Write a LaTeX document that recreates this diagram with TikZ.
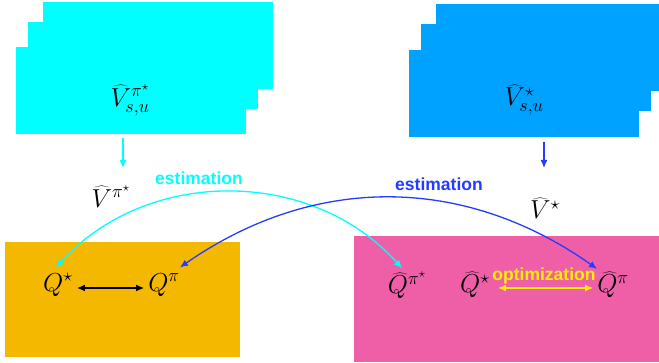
\RequirePackage{fix-cm}
\documentclass[tikz,border=0pt]{standalone}
\usepackage{fontspec}
\newfontfamily\labfont{Liberation Sans}
\usetikzlibrary{arrows.meta}
\definecolor{cyanbox}{RGB}{0,255,255}
\definecolor{bluebox}{RGB}{0,162,255}
\definecolor{orangebox}{RGB}{245,184,0}
\definecolor{pinkbox}{RGB}{238,95,168}
\definecolor{darkblue}{RGB}{35,60,255}
\definecolor{yel}{RGB}{255,238,0}
\begin{document}
\begin{tikzpicture}[x=1pt,y=1pt,
  panel/.style={inner sep=0pt, minimum width=230pt, minimum height=87pt},
  mathlab/.style={inner sep=0pt, font=\fontsize{26}{30}\selectfont},
  wordlab/.style={inner sep=0pt, font=\labfont\bfseries\fontsize{17.5}{20}\selectfont},
  tip/.style={-{Latex[length=8pt,width=7pt]}},
  dtip/.style={{Latex[length=8pt,width=7pt]}-{Latex[length=8pt,width=7pt]}},
  arc/.style={line width=1.3pt}
]
\useasboundingbox (0,0) rectangle (659,362);
% stacks
\node[panel, fill=cyanbox] (cb) at (158,316.5) {};
\node[panel, fill=cyanbox] (cm) at (143,296.5) {};
\node[panel, fill=cyanbox] (cf) at (131,271.5) {};
\node[panel, fill=bluebox, minimum width=223pt] (bb) at (547.5,314.5) {};
\node[panel, fill=bluebox] (bm) at (536,294.5) {};
\node[panel, fill=bluebox] (bf) at (524,268) {};
\node[mathlab] (vspi) at (130,262) {$\widehat{V}^{\pi^\star}_{s,u}$};
\node[mathlab] (vss) at (524,262) {$\widehat{V}^{\star}_{s,u}$};
% bottom boxes
\node[inner sep=0pt, fill=orangebox, minimum width=235pt, minimum height=115pt] (ob) at (122.5,62.5) {};
\node[inner sep=0pt, fill=pinkbox, minimum width=305pt, minimum height=126pt] (pb) at (506.5,63) {};
% labels
\node[mathlab] (vpi) at (111,166) {$\widehat{V}^{\pi^\star}$};
\node[mathlab] (vst) at (545,154) {$\widehat{V}^{\star}$};
\node[wordlab, text=cyanbox] (est1) at (199,184) {estimation};
\node[wordlab, text=darkblue] (est2) at (439,178) {estimation};
% Q nodes
\node[mathlab] (qs) at (58,77) {$Q^{\star}$};
\node[mathlab] (qp) at (164,77) {$Q^{\pi}$};
\node[mathlab] (qhps) at (407,77) {$\widehat{Q}^{\pi^\star}$};
\node[mathlab] (qhs) at (475,77) {$\widehat{Q}^{\star}$};
\node[mathlab] (qhp) at (613,77) {$\widehat{Q}^{\pi}$};
\node[wordlab, text=yel] (opt) at (544,86) {optimization};
% short arrows
\coordinate (ca) at (123,194);
\coordinate (ba) at (544,194);
\draw[tip, cyanbox, line width=1.3pt] ([yshift=-4pt]cf.south -| ca) -- (ca);
\draw[tip, darkblue, line width=1.3pt] ([yshift=-4pt]bf.south -| ba) -- (ba);
% arcs
\draw[dtip, arc, cyanbox] ([xshift=-2pt,yshift=6pt]qs.north) to[bend left=48] ([xshift=-5pt,yshift=3pt]qhps.north);
\draw[dtip, arc, darkblue] ([xshift=16pt,yshift=6pt]qp.north) to[bend left=35] ([xshift=-16pt,yshift=3pt]qhp.north);
% horizontal arrows
\draw[dtip, line width=1.3pt, black] ([xshift=4pt,yshift=-3pt]qs.east) -- ([xshift=-4pt,yshift=-3pt]qp.west);
\draw[dtip, line width=1.3pt, yel] ([xshift=8pt,yshift=-3pt]qhs.east) -- ([xshift=-4pt,yshift=-3pt]qhp.west);
\end{tikzpicture}
\end{document}
